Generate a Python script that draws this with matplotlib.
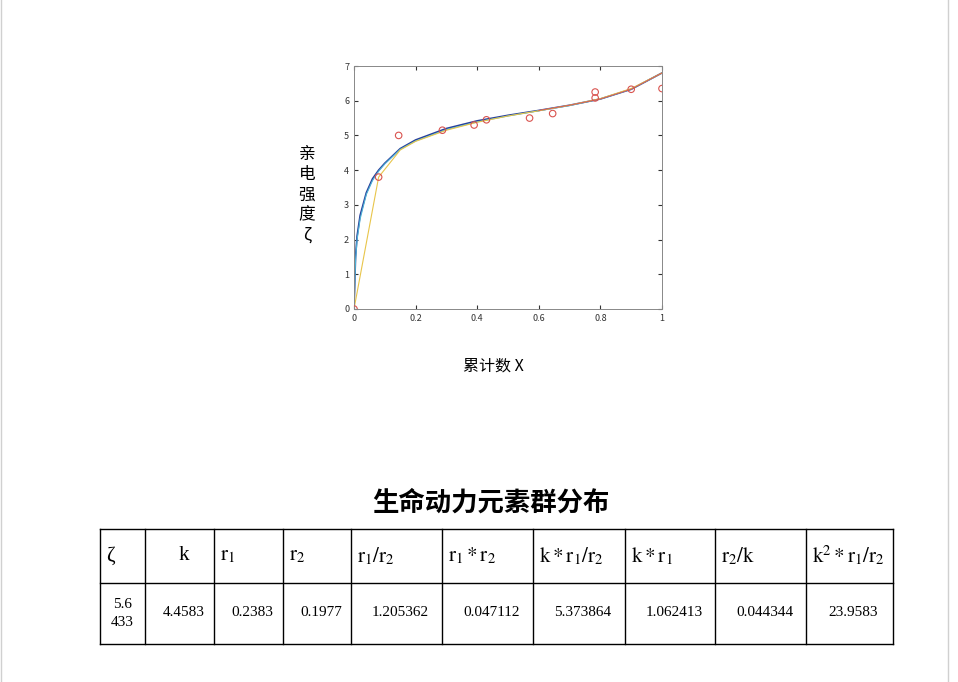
import matplotlib
matplotlib.use("Agg")
import matplotlib.pyplot as plt
from matplotlib.lines import Line2D

plt.rcParams['font.family'] = ['Noto Sans CJK SC', 'DejaVu Sans']
plt.rcParams['mathtext.fontset'] = 'stix'

# data
pts_x = [0, 0.08, 0.145, 0.287, 0.39, 0.43, 0.57, 0.645, 0.783, 0.783, 0.9, 1.0]
pts_y = [0, 3.8, 5.0, 5.15, 5.3, 5.45, 5.5, 5.63, 6.25, 6.08, 6.33, 6.35]
fit_x = [0, 0.005, 0.01, 0.02, 0.04, 0.06, 0.08, 0.1, 0.15, 0.2, 0.3, 0.4, 0.5, 0.6, 0.7, 0.8, 0.9, 1.0]
blue_y = [0, 1.5, 2.1, 2.7, 3.35, 3.75, 4.0, 4.2, 4.62, 4.87, 5.2, 5.42, 5.58, 5.72, 5.87, 6.05, 6.33, 6.8]
cyan_y = [0, 1.4, 2.0, 2.6, 3.3, 3.7, 3.97, 4.18, 4.6, 4.84, 5.17, 5.39, 5.56, 5.71, 5.86, 6.05, 6.33, 6.8]
yel_x = [0, 0.08, 0.15, 0.2, 0.3, 0.4, 0.5, 0.6, 0.7, 0.8, 0.9, 1.0]
yel_y = [0, 3.8, 4.58, 4.83, 5.15, 5.38, 5.56, 5.71, 5.87, 6.06, 6.35, 6.8]
red_x = [0.6, 0.7, 0.8, 0.9, 1.0]
red_y = [5.72, 5.87, 6.05, 6.33, 6.8]

headers = [r'ζ', 'k', r'$\mathrm{r}_1$', r'$\mathrm{r}_2$', r'$\mathrm{r}_1/\mathrm{r}_2$',
           r'$\mathrm{r}_1*\mathrm{r}_2$', r'$\mathrm{k}*\mathrm{r}_1/\mathrm{r}_2$',
           r'$\mathrm{k}*\mathrm{r}_1$', r'$\mathrm{r}_2/\mathrm{k}$', r'$\mathrm{k}^2*\mathrm{r}_1/\mathrm{r}_2$']
values = ['5.6\n433', '4.4583', '0.2383', '0.1977', '1.205362', '0.047112', '5.373864', '1.062413', '0.044344', '23.9583']

W, H = 958, 682
fig = plt.figure(figsize=(W/100, H/100), dpi=100)
def fx(px): return px / W
def fy(py): return 1 - py / H

ax = fig.add_axes([fx(354), fy(309), fx(662) - fx(354), fy(66) - fy(309)])
ax.plot(fit_x, blue_y, color='#2a3f9a', lw=1.2)
ax.plot(fit_x, cyan_y, color='#4db3d6', lw=0.8)
ax.plot(yel_x, yel_y, color='#e8c54a', lw=0.8)
ax.plot(red_x, red_y, color='#d9534f', lw=0.6)
ax.scatter(pts_x, pts_y, s=22, facecolors='none', edgecolors='#d9534f', linewidths=0.8, zorder=5)
ax.set_xlim(0, 1)
ax.set_ylim(0, 7)
ax.set_xticks([0, 0.2, 0.4, 0.6, 0.8, 1])
ax.set_xticklabels(['0', '0.2', '0.4', '0.6', '0.8', '1'])
ax.tick_params(labelsize=6.5, colors='#333333', direction='in', length=3, right=True, top=True)
for s in ax.spines.values():
    s.set_color('#888888'); s.set_linewidth(0.7)

fig.text(fx(307), fy(195), '亲\n电\n强\n度\nζ', ha='center', va='center', fontsize=12, linespacing=1.25)
fig.text(fx(493), fy(366), '累计数 X', ha='center', va='center', fontsize=11.5,
         family=['Noto Sans CJK SC', 'DejaVu Sans'])
fig.text(fx(491), fy(503), '生命动力元素群分布', ha='center', va='center', fontsize=19, fontweight='bold')

# page borders
fig.add_artist(Line2D([fx(1), fx(1)], [0, 1], color='#d0d0d0', lw=1))
fig.add_artist(Line2D([fx(948), fx(948)], [0, 1], color='#d0d0d0', lw=1))

# table
cols = [100, 145, 214, 283, 351, 442, 533, 625, 715, 806, 893]
rows = [529, 583, 644]
for r in rows:
    fig.add_artist(Line2D([fx(cols[0]), fx(cols[-1])], [fy(r), fy(r)], color='black', lw=1))
for c in cols:
    fig.add_artist(Line2D([fx(c), fx(c)], [fy(rows[0]), fy(rows[-1])], color='black', lw=1))
serif = ['Liberation Serif', 'DejaVu Serif']
for i, h in enumerate(headers):
    left = cols[i] + 6
    if i == 1:
        fig.text(fx((cols[i] + cols[i+1]) / 2 + 4), fy(556), h, ha='center', va='center', fontsize=15, family=serif)
    else:
        fig.text(fx(left), fy(556), h, ha='left', va='center', fontsize=15, family=serif)
for i, v in enumerate(values):
    xc = (cols[i] + cols[i+1]) / 2 + (0 if i == 0 else 4)
    fig.text(fx(xc), fy(613), v, ha='center', va='center', fontsize=11, family=serif, linespacing=1.5)

fig.savefig('out.png', dpi=100, facecolor='white')
